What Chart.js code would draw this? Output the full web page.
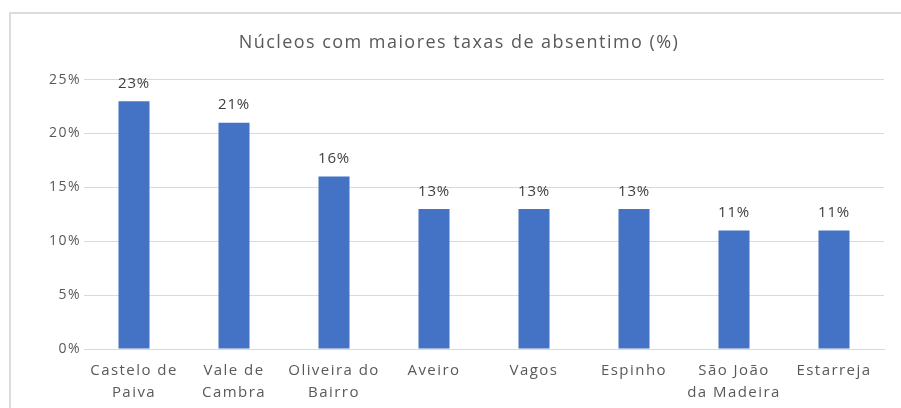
<!DOCTYPE html>
<html lang="pt">
<head>
<meta charset="UTF-8">
<title>Núcleos com maiores taxas de absentimo</title>
<script src="https://cdn.jsdelivr.net/npm/chart.js"></script>
<style>
  body { margin: 0; background: #fff; }
  #wrap { position: relative; width: 901px; height: 408px; overflow: hidden; }
  #frame { position: absolute; left: 9px; top: 12px; width: 900px; height: 420px; border: 2px solid #dcdcdc; }
  #myChart { position: absolute; left: 0; top: 0; }
</style>
</head>
<body>
<div id="wrap">
  <div id="frame"></div>
  <canvas id="myChart" width="901" height="408"></canvas>
</div>
<script>
  // dados
  var nucleos = [
    ['Castelo de', 'Paiva'],
    ['Vale de', 'Cambra'],
    ['Oliveira do', 'Bairro'],
    'Aveiro',
    'Vagos',
    'Espinho',
    ['São João', 'da Madeira'],
    'Estarreja'
  ];
  var taxas = [23, 21, 16, 13, 13, 13, 11, 11];
  var yTicks = [0, 5, 10, 15, 20, 25];

  var fonte = "'Open Sans', 'Noto Sans', sans-serif";
  var cinza = '#595959';

  // texto mais espaçado, como no original
  const spacing = {
    id: 'spacing',
    beforeInit(chart) { chart.ctx.letterSpacing = '1.45px'; },
    beforeDraw(chart) { chart.ctx.letterSpacing = '1.45px'; }
  };

  // rótulos de valor por cima das barras
  const valueLabels = {
    id: 'valueLabels',
    afterDatasetsDraw(chart) {
      const ctx = chart.ctx;
      const meta = chart.getDatasetMeta(0);
      ctx.save();
      ctx.letterSpacing = '0.8px';
      ctx.font = '15px ' + fonte;
      ctx.fillStyle = '#404040';
      ctx.textAlign = 'center';
      ctx.textBaseline = 'bottom';
      meta.data.forEach((bar, i) => {
        ctx.fillText(taxas[i] + '%', bar.x, bar.y - 10);
      });
      ctx.restore();
    }
  };

  const ctx = document.getElementById('myChart');

  new Chart(ctx, {
    type: 'bar',
    data: {
      labels: nucleos,
      datasets: [{
        data: taxas,
        backgroundColor: '#4472C4',
        borderWidth: 0,
        categoryPercentage: 1,
        barPercentage: 0.31
      }]
    },
    options: {
      responsive: false,
      animation: false,
      layout: { padding: { left: 34, right: 17, top: 0, bottom: 0 } },
      plugins: {
        legend: { display: false },
        tooltip: { enabled: false },
        title: {
          display: true,
          text: 'Núcleos com maiores taxas de absentimo (%)',
          color: cinza,
          font: { family: fonte, size: 18, weight: 'normal' },
          padding: { top: 32, bottom: 26 }
        }
      },
      scales: {
        y: {
          min: 0,
          max: 25,
          afterBuildTicks: (scale) => { scale.ticks = yTicks.map(v => ({ value: v })); },
          afterFit: (scale) => { scale.width = 50; },
          border: { display: false },
          grid: { color: '#d9d9d9', lineWidth: 1, drawTicks: false },
          ticks: {
            color: cinza,
            padding: 3,
            font: { family: fonte, size: 14 },
            callback: (v) => v + '%'
          }
        },
        x: {
          afterFit: (scale) => { scale.height = 59; },
          border: { color: '#d9d9d9' },
          grid: { display: false, drawTicks: false },
          ticks: {
            color: cinza,
            padding: 10,
            maxRotation: 0,
            autoSkip: false,
            font: { family: fonte, size: 15, lineHeight: 1.5 }
          }
        }
      }
    },
    plugins: [spacing, valueLabels]
  });
</script>
</body>
</html>
